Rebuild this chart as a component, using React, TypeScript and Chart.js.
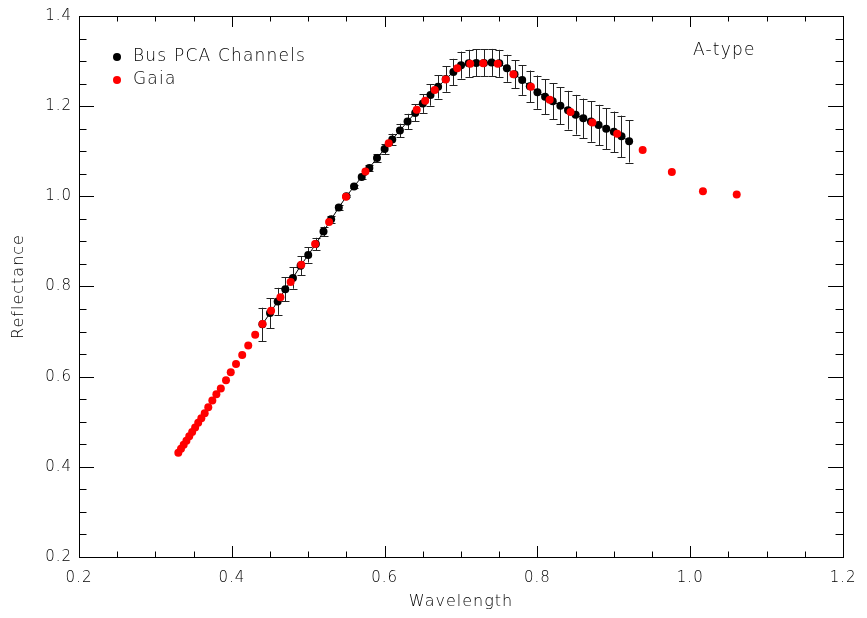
import React, { useEffect, useRef } from 'react';
import { Chart, registerables } from 'chart.js';

Chart.register(...registerables);

const busWavelength = [
  0.44, 0.45, 0.46, 0.47, 0.48, 0.49, 0.5, 0.51, 0.52, 0.53, 0.54, 0.55, 0.56, 0.57, 0.58, 0.59, 0.6,
  0.61, 0.62, 0.63, 0.64, 0.65, 0.66, 0.67, 0.68, 0.69, 0.7, 0.71, 0.72, 0.73, 0.74, 0.75, 0.76, 0.77,
  0.78, 0.79, 0.8, 0.81, 0.82, 0.83, 0.84, 0.85, 0.86, 0.87, 0.88, 0.89, 0.9, 0.91, 0.92,
];
const busReflectance = [
  0.716, 0.741, 0.767, 0.794, 0.819, 0.846, 0.87, 0.894, 0.922, 0.949, 0.975, 1.0, 1.022, 1.043, 1.063,
  1.085, 1.105, 1.126, 1.146, 1.166, 1.185, 1.206, 1.225, 1.243, 1.26, 1.276, 1.291, 1.295, 1.296, 1.296,
  1.297, 1.295, 1.284, 1.271, 1.258, 1.244, 1.231, 1.221, 1.211, 1.201, 1.191, 1.181, 1.173, 1.166,
  1.158, 1.15, 1.143, 1.133, 1.122,
];
const busError = [
  0.037, 0.033, 0.03, 0.027, 0.024, 0.021, 0.017, 0.014, 0.011, 0.008, 0.005, 0.002, 0.003, 0.005, 0.007,
  0.009, 0.011, 0.013, 0.015, 0.017, 0.019, 0.021, 0.024, 0.026, 0.028, 0.029, 0.03, 0.03, 0.03, 0.03,
  0.03, 0.03, 0.03, 0.031, 0.033, 0.035, 0.037, 0.039, 0.04, 0.041, 0.043, 0.044, 0.044, 0.045, 0.045,
  0.045, 0.045, 0.046, 0.047,
];
const gaiaWavelength = [
  0.33, 0.3335, 0.337, 0.3406, 0.3443, 0.3481, 0.352, 0.356, 0.3601, 0.3645, 0.3692, 0.3745, 0.3798,
  0.3856, 0.3924, 0.3986, 0.4055, 0.4136, 0.4215, 0.4306, 0.4402, 0.4514, 0.4636, 0.477, 0.4909, 0.509,
  0.5273, 0.5494, 0.5749, 0.6053, 0.642, 0.6531, 0.6656, 0.6799, 0.6951, 0.712, 0.7289, 0.748, 0.7685,
  0.7915, 0.816, 0.8433, 0.8719, 0.9044, 0.9377, 0.9759, 1.0166, 1.0608,
];
const gaiaReflectance = [
  0.431, 0.44, 0.449, 0.458, 0.468, 0.477, 0.487, 0.498, 0.508, 0.519, 0.532, 0.547, 0.561, 0.574, 0.592,
  0.61, 0.628, 0.648, 0.669, 0.693, 0.717, 0.746, 0.776, 0.81, 0.848, 0.894, 0.943, 0.999, 1.055, 1.118,
  1.192, 1.212, 1.236, 1.259, 1.284, 1.294, 1.295, 1.294, 1.271, 1.243, 1.214, 1.187, 1.164, 1.139,
  1.103, 1.054, 1.011, 1.004,
];
const xTickValues = [0.2, 0.4, 0.6, 0.8, 1.0, 1.2];
const yTickValues = [0.2, 0.4, 0.6, 0.8, 1.0, 1.2, 1.4];
const legendLabels = ['Bus PCA Channels', 'Gaia'];
const classLabel = 'A-type';
const xTitle = 'Wavelength';
const yTitle = 'Reflectance';

const FONT = '"DejaVu Sans", sans-serif';
const TEXT_COLOR = '#000';

const spacingPlugin = {
  id: 'letterSpacing',
  beforeDraw(chart: any) {
    chart.ctx.letterSpacing = '1px';
  },
};

const errorBarPlugin = {
  id: 'errorBars',
  beforeDatasetsDraw(chart: any) {
    const { ctx, scales } = chart;
    const xs = scales.x;
    const ys = scales.y;
    ctx.save();
    ctx.strokeStyle = '#222';
    ctx.lineWidth = 1;
    for (let i = 0; i < busWavelength.length; i++) {
      const px = Math.round(xs.getPixelForValue(busWavelength[i])) + 0.5;
      const top = ys.getPixelForValue(busReflectance[i] + busError[i]);
      const bot = ys.getPixelForValue(busReflectance[i] - busError[i]);
      ctx.beginPath();
      ctx.moveTo(px, top);
      ctx.lineTo(px, bot);
      ctx.moveTo(px - 4, Math.round(top) + 0.5);
      ctx.lineTo(px + 4, Math.round(top) + 0.5);
      ctx.moveTo(px - 4, Math.round(bot) + 0.5);
      ctx.lineTo(px + 4, Math.round(bot) + 0.5);
      ctx.stroke();
    }
    ctx.restore();
  },
};

const framePlugin = {
  id: 'frameAndText',
  afterDraw(chart: any) {
    const { ctx, chartArea, scales } = chart;
    const { left, right, top, bottom } = chartArea;
    const xs = scales.x;
    const ys = scales.y;
    ctx.save();
    ctx.strokeStyle = '#000';
    ctx.lineWidth = 1;
    ctx.strokeRect(Math.round(left) + 0.5, Math.round(top) + 0.5, Math.round(right - left), Math.round(bottom - top));
    ctx.beginPath();
    for (let k = 0; k <= 20; k++) {
      const v = 0.2 + k * 0.05;
      const px = Math.round(xs.getPixelForValue(v)) + 0.5;
      const len = k % 4 === 0 ? 11 : 5.5;
      ctx.moveTo(px, bottom);
      ctx.lineTo(px, bottom - len);
      ctx.moveTo(px, top);
      ctx.lineTo(px, top + len);
    }
    for (let k = 0; k <= 24; k++) {
      const v = 0.2 + k * 0.05;
      const py = Math.round(ys.getPixelForValue(v)) + 0.5;
      const len = k % 4 === 0 ? 15 : 7.5;
      ctx.moveTo(left, py);
      ctx.lineTo(left + len, py);
      ctx.moveTo(right, py);
      ctx.lineTo(right - len, py);
    }
    ctx.stroke();

    ctx.letterSpacing = '1.2px';
    ctx.fillStyle = TEXT_COLOR;
    ctx.font = `200 17px ${FONT}`;
    ctx.textBaseline = 'middle';
    ctx.textAlign = 'left';
    const colors = ['#000', '#ff0000'];
    legendLabels.forEach((label, i) => {
      const y = 57 + i * 23;
      ctx.fillStyle = colors[i];
      ctx.beginPath();
      ctx.arc(117, y, 4, 0, Math.PI * 2);
      ctx.fill();
      ctx.fillStyle = TEXT_COLOR;
      ctx.fillText(label, 133, y);
    });
    ctx.fillText(classLabel, 693, 51);

    ctx.font = `200 16px ${FONT}`;
    ctx.letterSpacing = '1px';
    ctx.textAlign = 'center';
    ctx.fillText(xTitle, (left + right) / 2, 602);
    ctx.translate(19, (top + bottom) / 2);
    ctx.rotate(-Math.PI / 2);
    ctx.fillText(yTitle, 0, 0);
    ctx.restore();
  },
};

export default function App() {
  const ref = useRef<HTMLCanvasElement>(null);
  useEffect(() => {
    const canvas = ref.current;
    if (!canvas) return;
    const chart = new Chart(canvas, {
      type: 'scatter',
      data: {
        datasets: [
          {
            label: legendLabels[1],
            data: gaiaWavelength.map((w, i) => ({ x: w, y: gaiaReflectance[i] })),
            backgroundColor: '#ff0000',
            borderColor: '#ff0000',
            pointRadius: 4,
            pointBorderWidth: 0,
            showLine: false,
            order: 0,
          },
          {
            label: legendLabels[0],
            data: busWavelength.map((w, i) => ({ x: w, y: busReflectance[i] })),
            backgroundColor: '#000',
            borderColor: '#000',
            borderWidth: 1,
            pointRadius: 4,
            pointBorderWidth: 0,
            showLine: true,
            order: 1,
          },
        ],
      },
      options: {
        responsive: false,
        animation: false,
        devicePixelRatio: 1,
        layout: { padding: { top: 12, right: 19, left: 0, bottom: 0 } },
        plugins: { legend: { display: false }, tooltip: { enabled: false } },
        scales: {
          x: {
            type: 'linear',
            min: 0.2,
            max: 1.2,
            afterBuildTicks: (s: any) => {
              s.ticks = xTickValues.map((v) => ({ value: v }));
            },
            afterFit: (s: any) => {
              s.height = 61;
            },
            ticks: {
              callback: (v: any) => Number(v).toFixed(1),
              padding: 12,
              maxRotation: 0,
              autoSkip: false,
              color: TEXT_COLOR,
              font: { family: FONT, size: 15, weight: '200' as any },
            },
            grid: { display: false, drawTicks: false },
            border: { display: false },
          },
          y: {
            type: 'linear',
            min: 0.2,
            max: 1.4,
            afterBuildTicks: (s: any) => {
              s.ticks = yTickValues.map((v) => ({ value: v }));
            },
            afterFit: (s: any) => {
              s.width = 79;
            },
            ticks: {
              callback: (v: any) => Number(v).toFixed(1),
              padding: 7,
              autoSkip: false,
              color: TEXT_COLOR,
              font: { family: FONT, size: 15, weight: '200' as any },
            },
            grid: { display: false, drawTicks: false },
            border: { display: false },
          },
        },
      },
      plugins: [spacingPlugin, errorBarPlugin, framePlugin],
    });
    return () => chart.destroy();
  }, []);
  return (
    <div style={{ position: 'absolute', left: 0, top: 0, width: 867, height: 618, background: '#fff' }}>
      <canvas ref={ref} width={867} height={618} style={{ display: 'block' }} />
    </div>
  );
}
